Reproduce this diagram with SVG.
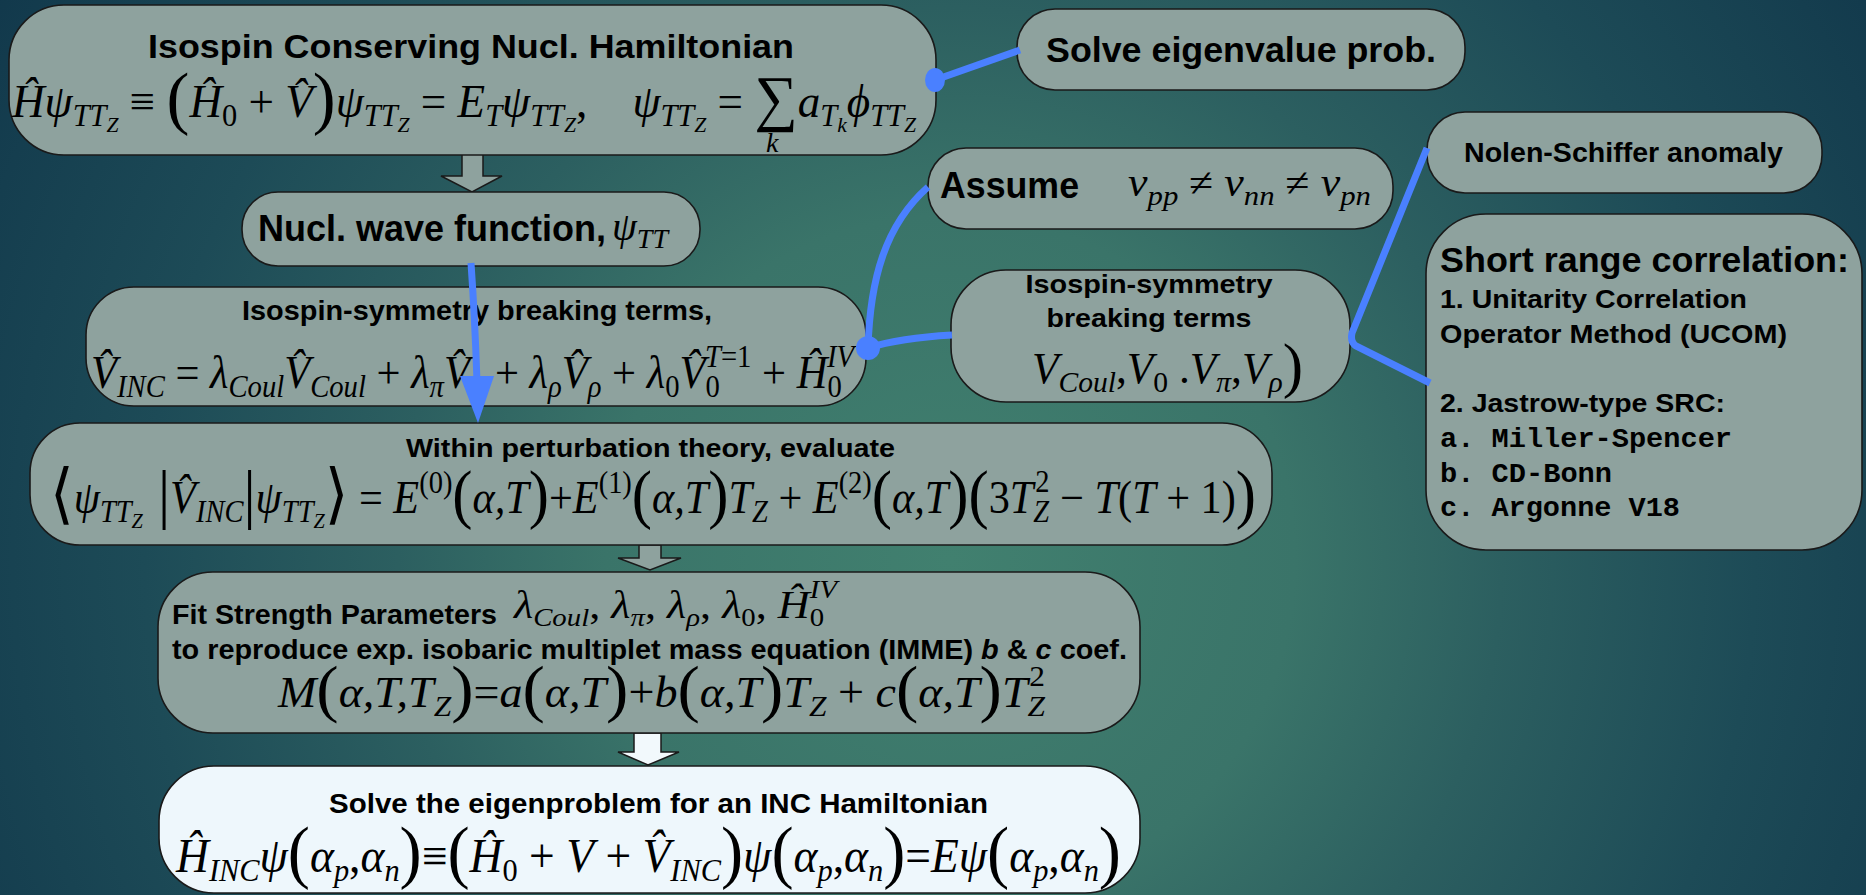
<svg xmlns="http://www.w3.org/2000/svg" width="1866" height="895" viewBox="0 0 1866 895">
<defs>
<radialGradient id="bg" gradientUnits="userSpaceOnUse" cx="950" cy="560" r="1150">
<stop offset="0" stop-color="#41806f"/>
<stop offset="0.3" stop-color="#3a7469"/>
<stop offset="0.48" stop-color="#2c5f60"/>
<stop offset="0.7" stop-color="#1d4b57"/>
<stop offset="1" stop-color="#10364a"/>
</radialGradient>
<style>
.box{fill:#8ea29e;stroke:#1a1a1a;stroke-width:1.6}
.wbox{fill:#eef7fc;stroke:#1a1a1a;stroke-width:1.6}
.blk{fill:#8ea29e;stroke:#1a1a1a;stroke-width:1.5}
.wblk{fill:#f2f9fc;stroke:#1a1a1a;stroke-width:1.5}
.t{font-family:"Liberation Sans",Arial,sans-serif;font-weight:bold;fill:#000}
.mono{font-family:"Liberation Mono","Courier New",monospace;font-weight:bold;fill:#000}
.m{font-family:"Liberation Serif","DejaVu Serif",serif;font-style:italic;fill:#000}
.r{font-style:normal}
.conn{stroke:#4a80ff;stroke-width:7;fill:none}
.dot{fill:#4a80ff}
</style>
</defs>
<rect x="0" y="0" width="1866" height="895" fill="url(#bg)"/>

<g id="arrows-block">
<polygon class="blk" points="462,153 483,153 483,176 502,176 472,192 441,176 462,176"/>
<polygon class="blk" points="639,545 661,545 661,558 681,558 650,570 618,558 639,558"/>
<polygon class="wblk" points="634,733 661,733 661,752 679,752 648,765 618,752 634,752"/>
</g>

<g id="n-hamiltonian">
<rect class="box" x="9" y="5" width="927" height="150" rx="55" ry="55"/>
<text class="t" x="148" y="58" font-size="33" textLength="646" lengthAdjust="spacingAndGlyphs">Isospin Conserving Nucl. Hamiltonian</text>
<text class="m" x="12" y="117" font-size="46" xml:space="preserve" textLength="904" lengthAdjust="spacingAndGlyphs">Ĥψ<tspan dy="9" font-size="31">TT</tspan><tspan dy="6" font-size="22">Z</tspan><tspan dy="-15" class="r"> ≡ </tspan><tspan class="r" font-size="70" dy="4">(</tspan><tspan dy="-4">Ĥ</tspan><tspan dy="9" font-size="31" class="r">0</tspan><tspan dy="-9" class="r"> + </tspan>V̂<tspan class="r" font-size="70" dy="4">)</tspan><tspan dy="-4">ψ</tspan><tspan dy="9" font-size="31">TT</tspan><tspan dy="6" font-size="22">Z</tspan><tspan dy="-15" class="r"> = </tspan>E<tspan dy="9" font-size="31">T</tspan><tspan dy="-9">ψ</tspan><tspan dy="9" font-size="31">TT</tspan><tspan dy="6" font-size="22">Z</tspan><tspan dy="-15" class="r">,    </tspan>ψ<tspan dy="9" font-size="31">TT</tspan><tspan dy="6" font-size="22">Z</tspan><tspan dy="-15" class="r"> = </tspan><tspan class="r" font-size="62" dy="2">∑</tspan><tspan dy="-2">a</tspan><tspan dy="9" font-size="31">T</tspan><tspan dy="6" font-size="22">k</tspan><tspan dy="-15">ϕ</tspan><tspan dy="9" font-size="31">TT</tspan><tspan dy="6" font-size="22">Z</tspan></text>
<text class="m" x="766" y="152" font-size="28">k</text>
</g>

<g id="n-solve-eigen">
<rect class="box" x="1017" y="9" width="448" height="81" rx="38" ry="38"/>
<text class="t" x="1046" y="62" font-size="35" textLength="390" lengthAdjust="spacingAndGlyphs">Solve eigenvalue prob.</text>
</g>

<g id="n-nolen">
<rect class="box" x="1427" y="112" width="395" height="81" rx="38" ry="38"/>
<text class="t" x="1464" y="162" font-size="28" textLength="319" lengthAdjust="spacingAndGlyphs">Nolen-Schiffer anomaly</text>
</g>

<g id="n-assume">
<rect class="box" x="928" y="148" width="465" height="81" rx="38" ry="38"/>
<text class="t" x="940" y="198" font-size="36" textLength="139" lengthAdjust="spacingAndGlyphs">Assume</text>
<text class="m" x="1128" y="196" font-size="40" xml:space="preserve" textLength="243" lengthAdjust="spacingAndGlyphs">v<tspan dy="9" font-size="28">pp</tspan><tspan dy="-9" class="r"> ≠ </tspan>v<tspan dy="9" font-size="28">nn</tspan><tspan dy="-9" class="r"> ≠ </tspan>v<tspan dy="9" font-size="28">pn</tspan></text>
</g>

<g id="n-wavefunction">
<rect class="box" x="242" y="192" width="458" height="74" rx="36" ry="36"/>
<text class="t" x="258" y="241" font-size="37" textLength="348" lengthAdjust="spacingAndGlyphs">Nucl. wave function,</text>
<text class="m" x="612" y="240" font-size="40">ψ<tspan dy="8" font-size="28">TT</tspan></text>
</g>

<g id="n-isospin-left">
<rect class="box" x="86" y="287" width="780" height="119" rx="48" ry="48"/>
<text class="t" x="242" y="320" font-size="27" textLength="470" lengthAdjust="spacingAndGlyphs">Isospin-symmetry breaking terms,</text>
<text class="m" x="91" y="388" font-size="46" xml:space="preserve" textLength="763" lengthAdjust="spacingAndGlyphs">V̂<tspan dy="9" font-size="31">INC</tspan><tspan dy="-9" class="r"> = </tspan>λ<tspan dy="9" font-size="31">Coul</tspan><tspan dy="-9">V̂</tspan><tspan dy="9" font-size="31">Coul</tspan><tspan dy="-9" class="r"> + </tspan>λ<tspan dy="9" font-size="31">π</tspan><tspan dy="-9">V̂</tspan><tspan dy="9" font-size="31">π</tspan><tspan dy="-9" class="r"> + </tspan>λ<tspan dy="9" font-size="31">ρ</tspan><tspan dy="-9">V̂</tspan><tspan dy="9" font-size="31">ρ</tspan><tspan dy="-9" class="r"> + </tspan>λ<tspan dy="9" font-size="31" class="r">0</tspan><tspan dy="-9">V̂</tspan><tspan dy="9" font-size="31" class="r">0</tspan><tspan dx="-16" dy="-30" font-size="31">T<tspan class="r">=1</tspan></tspan><tspan dy="21" class="r"> + </tspan>Ĥ<tspan dy="9" font-size="31" class="r">0</tspan><tspan dx="-16" dy="-30" font-size="31">IV</tspan></text>
</g>

<g id="n-isospin-right">
<rect class="box" x="951" y="270" width="399" height="132" rx="55" ry="55"/>
<text class="t" x="1149" y="293" font-size="26" text-anchor="middle" textLength="247" lengthAdjust="spacingAndGlyphs">Isospin-symmetry</text>
<text class="t" x="1149" y="327" font-size="26" text-anchor="middle" textLength="205" lengthAdjust="spacingAndGlyphs">breaking terms</text>
<text class="m" x="1032" y="383" font-size="44" xml:space="preserve" textLength="271" lengthAdjust="spacingAndGlyphs">V<tspan dy="9" font-size="30">Coul</tspan><tspan dy="-9" class="r">,</tspan>V<tspan dy="9" font-size="30" class="r">0</tspan><tspan dy="-9" class="r"> .</tspan>V<tspan dy="9" font-size="30">π</tspan><tspan dy="-9" class="r">,</tspan>V<tspan dy="9" font-size="30">ρ</tspan><tspan dy="-6" font-size="62" class="r">)</tspan></text>
</g>

<g id="n-src">
<rect class="box" x="1426" y="214" width="436" height="336" rx="60" ry="60"/>
<text class="t" x="1440" y="272" font-size="35" textLength="409" lengthAdjust="spacingAndGlyphs">Short range correlation:</text>
<text class="t" x="1440" y="308" font-size="26" textLength="307" lengthAdjust="spacingAndGlyphs">1. Unitarity Correlation</text>
<text class="t" x="1440" y="343" font-size="26" textLength="347" lengthAdjust="spacingAndGlyphs">Operator Method (UCOM)</text>
<text class="t" x="1440" y="412" font-size="26" textLength="285" lengthAdjust="spacingAndGlyphs">2. Jastrow-type SRC:</text>
<text class="mono" x="1440" y="447" font-size="28" textLength="292" lengthAdjust="spacingAndGlyphs">a. Miller-Spencer</text>
<text class="mono" x="1440" y="482" font-size="28" textLength="172" lengthAdjust="spacingAndGlyphs">b. CD-Bonn</text>
<text class="mono" x="1440" y="516" font-size="28" textLength="240" lengthAdjust="spacingAndGlyphs">c. Argonne V18</text>
</g>

<g id="n-perturbation">
<rect class="box" x="30" y="423" width="1242" height="122" rx="50" ry="50"/>
<text class="t" x="406" y="457" font-size="26" textLength="489" lengthAdjust="spacingAndGlyphs">Within perturbation theory, evaluate</text>
<text class="m" x="50" y="513" font-size="46" xml:space="preserve" textLength="1206" lengthAdjust="spacingAndGlyphs"><tspan class="r" font-size="66" dy="3">⟨</tspan><tspan dy="-3">ψ</tspan><tspan dy="9" font-size="31">TT</tspan><tspan dy="6" font-size="22">Z</tspan><tspan dy="-12" class="r" font-size="66"> |</tspan><tspan dy="-3">V̂</tspan><tspan dy="9" font-size="31">INC</tspan><tspan dy="-6" class="r" font-size="66">|</tspan><tspan dy="-3">ψ</tspan><tspan dy="9" font-size="31">TT</tspan><tspan dy="6" font-size="22">Z</tspan><tspan dy="-12" class="r" font-size="66">⟩</tspan><tspan dy="-3" class="r"> = </tspan>E<tspan dy="-20" font-size="31" class="r">(0)</tspan><tspan dy="23" class="r" font-size="66">(</tspan><tspan dy="-3">α,T</tspan><tspan dy="3" class="r" font-size="66">)</tspan><tspan dy="-3" class="r">+</tspan>E<tspan dy="-20" font-size="31" class="r">(1)</tspan><tspan dy="23" class="r" font-size="66">(</tspan><tspan dy="-3">α,T</tspan><tspan dy="3" class="r" font-size="66">)</tspan><tspan dy="-3">T</tspan><tspan dy="9" font-size="31">Z</tspan><tspan dy="-9" class="r"> + </tspan>E<tspan dy="-20" font-size="31" class="r">(2)</tspan><tspan dy="23" class="r" font-size="66">(</tspan><tspan dy="-3">α,T</tspan><tspan dy="3" class="r" font-size="66">)(</tspan><tspan dy="-3" class="r">3</tspan>T<tspan dy="9" font-size="31">Z</tspan><tspan dx="-15" dy="-30" font-size="31" class="r">2</tspan><tspan dy="21" class="r"> − </tspan>T<tspan class="r">(</tspan>T<tspan class="r"> + 1)</tspan><tspan dy="3" class="r" font-size="66">)</tspan></text>
</g>

<g id="n-fit">
<rect class="box" x="158" y="572" width="982" height="161" rx="55" ry="55"/>
<text class="t" x="172" y="624" font-size="27" textLength="325" lengthAdjust="spacingAndGlyphs">Fit Strength Parameters</text>
<text class="m" x="514" y="618" font-size="40" xml:space="preserve" textLength="323" lengthAdjust="spacingAndGlyphs">λ<tspan dy="8" font-size="26">Coul</tspan><tspan dy="-8" class="r">, </tspan>λ<tspan dy="8" font-size="26">π</tspan><tspan dy="-8" class="r">, </tspan>λ<tspan dy="8" font-size="26">ρ</tspan><tspan dy="-8" class="r">, </tspan>λ<tspan dy="8" font-size="26" class="r">0</tspan><tspan dy="-8" class="r">, </tspan>Ĥ<tspan dy="8" font-size="26" class="r">0</tspan><tspan dx="-13" dy="-28" font-size="26">IV</tspan></text>
<text class="t" x="172" y="659" font-size="27" xml:space="preserve" textLength="955" lengthAdjust="spacingAndGlyphs">to reproduce exp. isobaric multiplet mass equation (IMME) <tspan font-style="italic">b</tspan> &amp; <tspan font-style="italic">c</tspan> coef.</text>
<text class="m" x="278" y="707" font-size="44" xml:space="preserve" textLength="767" lengthAdjust="spacingAndGlyphs">M<tspan class="r" font-size="64" dy="3">(</tspan><tspan dy="-3">α,T,T</tspan><tspan dy="9" font-size="30">Z</tspan><tspan dy="-6" class="r" font-size="64">)</tspan><tspan dy="-3" class="r">=</tspan>a<tspan class="r" font-size="64" dy="3">(</tspan><tspan dy="-3">α,T</tspan><tspan dy="3" class="r" font-size="64">)</tspan><tspan dy="-3" class="r">+</tspan>b<tspan class="r" font-size="64" dy="3">(</tspan><tspan dy="-3">α,T</tspan><tspan dy="3" class="r" font-size="64">)</tspan><tspan dy="-3">T</tspan><tspan dy="9" font-size="30">Z</tspan><tspan dy="-9" class="r"> + </tspan>c<tspan class="r" font-size="64" dy="3">(</tspan><tspan dy="-3">α,T</tspan><tspan dy="3" class="r" font-size="64">)</tspan><tspan dy="-3">T</tspan><tspan dy="9" font-size="30">Z</tspan><tspan dx="-15" dy="-30" font-size="30" class="r">2</tspan></text>
</g>

<g id="n-solve-inc">
<rect class="wbox" x="159" y="766" width="981" height="127" rx="55" ry="55"/>
<text class="t" x="329" y="813" font-size="27" textLength="659" lengthAdjust="spacingAndGlyphs">Solve the eigenproblem for an INC Hamiltonian</text>
<text class="m" x="176" y="872" font-size="48" xml:space="preserve" textLength="945" lengthAdjust="spacingAndGlyphs">Ĥ<tspan dy="9" font-size="32">INC</tspan><tspan dy="-9">ψ</tspan><tspan class="r" font-size="70" dy="3">(</tspan><tspan dy="-3">α</tspan><tspan dy="9" font-size="32">p</tspan><tspan dy="-9" class="r">,</tspan>α<tspan dy="9" font-size="32">n</tspan><tspan dy="-6" class="r" font-size="70">)</tspan><tspan dy="-3" class="r">≡</tspan><tspan class="r" font-size="70" dy="3">(</tspan><tspan dy="-3">Ĥ</tspan><tspan dy="9" font-size="32" class="r">0</tspan><tspan dy="-9" class="r"> + </tspan>V<tspan class="r"> + </tspan>V̂<tspan dy="9" font-size="32">INC</tspan><tspan dy="-6" class="r" font-size="70">)</tspan><tspan dy="-3">ψ</tspan><tspan class="r" font-size="70" dy="3">(</tspan><tspan dy="-3">α</tspan><tspan dy="9" font-size="32">p</tspan><tspan dy="-9" class="r">,</tspan>α<tspan dy="9" font-size="32">n</tspan><tspan dy="-6" class="r" font-size="70">)</tspan><tspan dy="-3" class="r">=</tspan>Eψ<tspan class="r" font-size="70" dy="3">(</tspan><tspan dy="-3">α</tspan><tspan dy="9" font-size="32">p</tspan><tspan dy="-9" class="r">,</tspan>α<tspan dy="9" font-size="32">n</tspan><tspan dy="-6" class="r" font-size="70">)</tspan></text>
</g>

<g id="connectors">
<path class="conn" d="M935,80 L1020,50"/>
<ellipse class="dot" cx="935" cy="80" rx="10" ry="12"/>
<path class="conn" d="M471,263 Q475,320 477,382"/>
<polygon class="dot" points="460,376 494,376 478,423"/>
<path class="conn" d="M868,348 C870,280 885,225 928,187"/>
<path class="conn" d="M868,348 Q900,338 952,335"/>
<circle class="dot" cx="868" cy="348" r="12"/>
<path class="conn" d="M1427,148 L1352,333 Q1350,342 1356,346 L1430,383"/>
</g>
</svg>
